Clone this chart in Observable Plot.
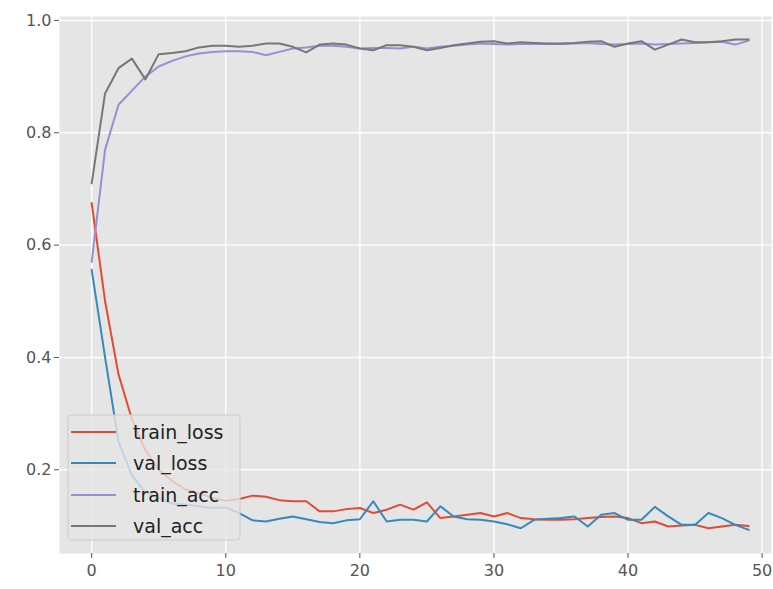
<!DOCTYPE html>
<html><head><meta charset="utf-8">
<script src="https://cdn.jsdelivr.net/npm/d3@7"></script>
<script src="https://cdn.jsdelivr.net/npm/@observablehq/plot@0.6"></script>
<style>body{margin:0;background:#fff;} #chart svg{display:block;}</style>
</head><body><div id="chart"></div>
<script>
const epochs = d3.range(50);
const trainLoss = [0.675,0.50,0.37,0.29,0.235,0.20,0.18,0.165,0.158,0.150,
  0.145,0.148,0.154,0.152,0.146,0.144,0.144,0.126,0.126,0.130,
  0.132,0.123,0.129,0.138,0.129,0.142,0.114,0.117,0.120,0.123,
  0.117,0.123,0.114,0.112,0.111,0.111,0.112,0.114,0.116,0.117,
  0.114,0.105,0.108,0.099,0.101,0.102,0.096,0.099,0.102,0.100];
const valLoss = [0.556,0.40,0.25,0.19,0.16,0.15,0.14,0.138,0.135,0.132,
  0.133,0.123,0.110,0.108,0.113,0.117,0.112,0.107,0.105,0.110,
  0.112,0.144,0.108,0.111,0.111,0.108,0.135,0.117,0.112,0.111,
  0.108,0.103,0.096,0.111,0.113,0.114,0.117,0.099,0.120,0.123,
  0.111,0.111,0.134,0.117,0.102,0.102,0.123,0.114,0.102,0.093];
const trainAcc = [0.57,0.77,0.85,0.875,0.90,0.918,0.928,0.936,0.941,0.944,
  0.945,0.945,0.944,0.938,0.944,0.950,0.952,0.955,0.955,0.953,
  0.950,0.951,0.951,0.950,0.953,0.950,0.953,0.955,0.957,0.959,
  0.958,0.957,0.958,0.958,0.958,0.958,0.959,0.960,0.958,0.957,
  0.958,0.959,0.957,0.958,0.959,0.960,0.961,0.962,0.957,0.964];
const valAcc = [0.71,0.87,0.915,0.932,0.895,0.940,0.942,0.945,0.952,0.955,
  0.955,0.953,0.955,0.959,0.959,0.953,0.943,0.957,0.959,0.957,
  0.950,0.947,0.956,0.956,0.953,0.947,0.951,0.956,0.959,0.962,
  0.963,0.959,0.961,0.960,0.959,0.959,0.960,0.962,0.963,0.953,
  0.959,0.963,0.948,0.957,0.966,0.961,0.961,0.963,0.966,0.966];
const seriesNames = ["train_loss","val_loss","train_acc","val_acc"];
const seriesColors = ["#E24A33","#348ABD","#988ED5","#777777"];
const xTicks = [0,10,20,30,40,50];
const yTicks = [0.2,0.4,0.6,0.8,1.0];

const seriesValues = [trainLoss, valLoss, trainAcc, valAcc];
const rows = seriesNames.flatMap((name,i)=>epochs.map((e,j)=>({epoch:e, value:seriesValues[i][j], series:name})));

const chart = Plot.plot({
  width:773, height:589, marginLeft:59, marginRight:2, marginTop:16, marginBottom:36,
  style:{fontFamily:"DejaVu Sans", fontSize:"16px", color:"#555", background:"#fff", overflow:"visible"},
  x:{domain:[-2.4,50.7], label:null},
  y:{domain:[0.051,1.007], label:null},
  color:{domain:seriesNames, range:seriesColors},
  marks:[
    Plot.frame({fill:"#E5E5E5", stroke:null}),
    Plot.gridX(xTicks, {stroke:"#fff", strokeOpacity:1, strokeWidth:1.4}),
    Plot.gridY(yTicks, {stroke:"#fff", strokeOpacity:1, strokeWidth:1.4}),
    Plot.axisX(xTicks, {tickSize:5, tickPadding:6, label:null, tickFormat:d=>String(d)}),
    Plot.axisY(yTicks, {tickSize:5, tickPadding:3, label:null, tickFormat:d=>d.toFixed(1)}),
    Plot.line(rows, {x:"epoch", y:"value", z:"series", stroke:"series", strokeWidth:2})
  ]
});
document.getElementById("chart").append(chart);

// legend (matplotlib-style, lower left)
const svg = d3.select(chart);
const lg = svg.append("g").attr("font-family","DejaVu Sans").attr("font-size","19px").attr("text-anchor","start");
lg.append("rect").attr("x",68).attr("y",415).attr("width",172).attr("height",125)
  .attr("rx",3).attr("fill","#E5E5E5").attr("fill-opacity",0.8).attr("stroke","#CCCCCC").attr("stroke-width",1);
const rowY = [432,463,495,526];
seriesNames.forEach((name,i)=>{
  lg.append("line").attr("x1",71).attr("x2",116).attr("y1",rowY[i]).attr("y2",rowY[i])
    .attr("stroke",seriesColors[i]).attr("stroke-width",2);
  lg.append("text").attr("x",133).attr("y",rowY[i]).attr("dy","0.35em").attr("text-anchor","start")
    .attr("fill","#222").text(name);
});
</script>
</body></html>
